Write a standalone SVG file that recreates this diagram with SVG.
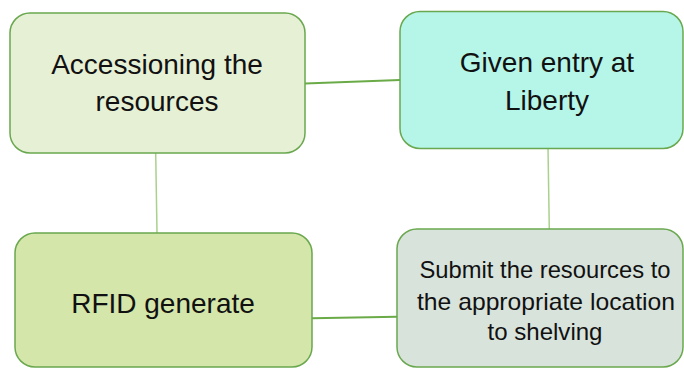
<svg xmlns="http://www.w3.org/2000/svg" width="684" height="369" viewBox="0 0 684 369">
<style>
.box{stroke:#6aa84f;stroke-width:1.5}
.t{font-family:"Liberation Sans",Arial,sans-serif;fill:#111;text-anchor:middle}
.big{font-size:28px}
.sm{font-size:24px}
.ch{stroke:#6aab48;stroke-width:2;fill:none}
.cv{stroke:#a9d18e;stroke-width:1.5;fill:none}
</style>
<rect width="684" height="369" fill="#ffffff"/>
<g id="connectors">
<line class="ch" x1="305" y1="83.5" x2="400" y2="80"/>
<line class="cv" x1="155.7" y1="153" x2="157" y2="233"/>
<line class="cv" x1="548" y1="148" x2="549.3" y2="229"/>
<line class="ch" x1="312" y1="318.3" x2="397" y2="316.7"/>
</g>
<g id="n1">
<rect class="box" x="10" y="13" width="295" height="140" rx="20" fill="#e6f0d5"/>
<text class="t big" x="157" y="74">Accessioning the</text>
<text class="t big" x="157" y="111">resources</text>
</g>
<g id="n2">
<rect class="box" x="400" y="11.5" width="283" height="137" rx="20" fill="#b5f6e9"/>
<text class="t big" x="547" y="72">Given entry at</text>
<text class="t big" x="547" y="110">Liberty</text>
</g>
<g id="n3">
<rect class="box" x="15" y="233" width="297" height="134" rx="20" fill="#d4e6a9"/>
<text class="t big" x="163" y="313">RFID generate</text>
</g>
<g id="n4">
<rect class="box" x="397" y="229" width="286" height="138" rx="20" fill="#d8e3dc"/>
<text class="t sm" x="545" y="278" textLength="251" lengthAdjust="spacingAndGlyphs">Submit the resources to</text>
<text class="t sm" x="546" y="310" textLength="258" lengthAdjust="spacingAndGlyphs">the appropriate location</text>
<text class="t sm" x="545" y="340" textLength="115" lengthAdjust="spacingAndGlyphs">to shelving</text>
</g>
</svg>
